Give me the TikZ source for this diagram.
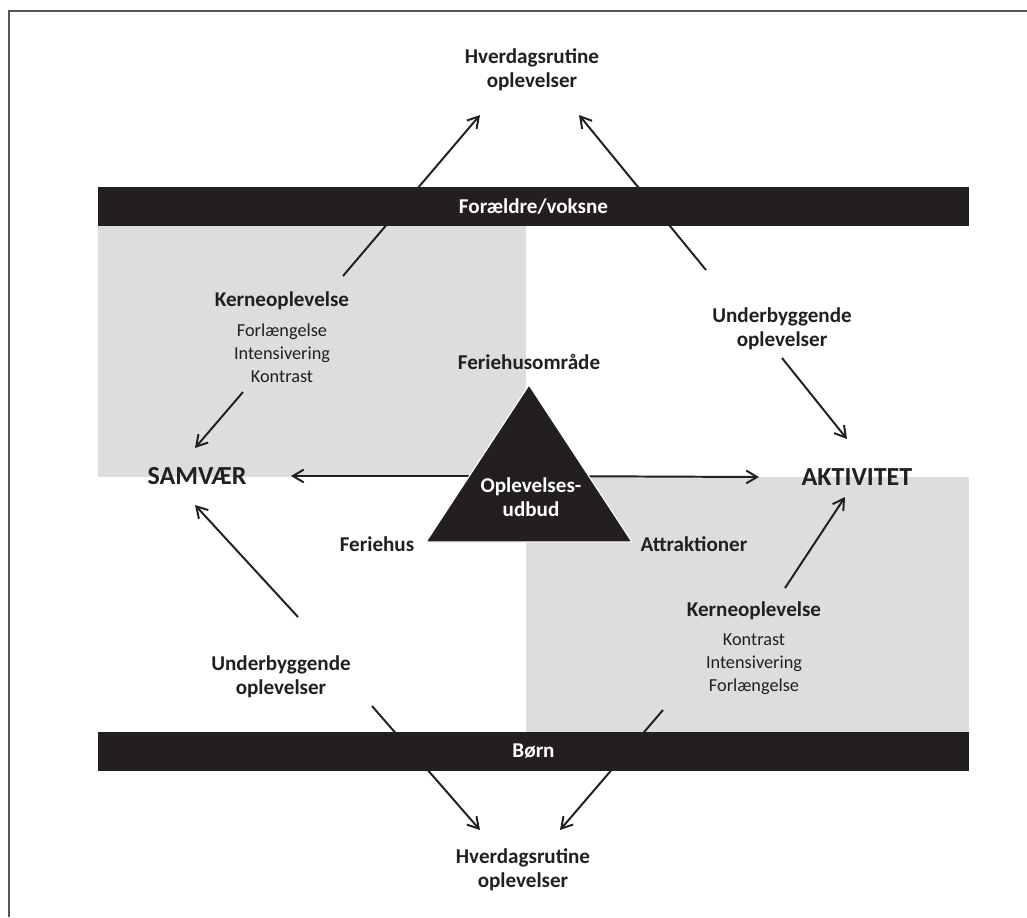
\documentclass[tikz,border=0pt]{standalone}
\usepackage{fontspec}
\setmainfont{Carlito}
\usetikzlibrary{arrows.meta}
\definecolor{bardark}{HTML}{231F20}
\definecolor{greybox}{HTML}{DCDDDE}
\definecolor{framegrey}{HTML}{555555}

\begin{document}
\begin{tikzpicture}[x=0.025cm,y=-0.025cm]

\tikzset{headtext/.style = {font=\fontsize{15}{17}\selectfont\bfseries, text=bardark, align=center, inner sep=0pt}}
\tikzset{subtext/.style = {font=\fontsize{13}{16.4}\selectfont, text=bardark, align=center, inner sep=0pt}}
\tikzset{bigtext/.style = {font=\fontsize{18.5}{20}\selectfont\bfseries, text=bardark, inner sep=0pt}}
\tikzset{barnode/.style = {fill=bardark, text=white, minimum width=21.775cm, minimum height=0.975cm, inner sep=0pt, font=\fontsize{15}{17}\selectfont\bfseries}}
\tikzset{flow/.style = {-{Straight Barb[length=0.27cm,width=0.32cm]}, line width=1.4pt, draw=bardark}}
\useasboundingbox (0,0) rectangle (1027,917);

%frame and grey fields
\draw[framegrey, line width=1.5pt] (8.7,917) -- (8.7,11.2) -- (1027,11.2);
\fill[greybox] (98,226) rectangle (526,477);
\fill[greybox] (526,477) rectangle (969,732);

%arrow ends
\coordinate (a1s) at (343,276);
\coordinate (a1e) at (480,115);
\coordinate (a2s) at (243,392);
\coordinate (a2e) at (195,448);
\coordinate (a3s) at (706,270);
\coordinate (a3e) at (579,115);
\coordinate (a4s) at (782,358);
\coordinate (a4e) at (847,439);
\coordinate (a5s) at (785,588);
\coordinate (a5e) at (845,497);
\coordinate (a6s) at (663,710);
\coordinate (a6e) at (560,830);
\coordinate (a7s) at (298,617);
\coordinate (a7e) at (195,505);
\coordinate (a8s) at (372,706);
\coordinate (a8e) at (480,830);
\coordinate (tri) at (529,476);
\coordinate (left) at (291,476);
\coordinate (right) at (759,477);

%edges
\draw[flow] (a1s) -- (a1e);
\draw[flow] (a2s) -- (a2e);
\draw[flow] (a3s) -- (a3e);
\draw[flow] (a4s) -- (a4e);
\draw[flow] (a5s) -- (a5e);
\draw[flow] (a6s) -- (a6e);
\draw[flow] (a7s) -- (a7e);
\draw[flow] (a8s) -- (a8e);
\draw[flow] (tri) -- (left);
\draw[flow] (tri) -- (right);

%bars
\node[barnode] (voksne) at (533.5,206.5) {Forældre/voksne};
\node[barnode] (born) at (533.5,751.5) {Børn};

%triangle
\coordinate (apex) at (529,385);
\coordinate (bl) at (426,542);
\coordinate (br) at (632,542);
\draw[fill=bardark, draw=white, line width=0.8pt] (apex) -- (br) -- (bl) -- cycle;
\node[headtext, text=white] (udbud) at (531,497) {Oplevelses-\\udbud};

%labels
\node[headtext] (toprut) at (532,70) {Hverdagsrutine\\oplevelser};
\node[headtext] (botrut) at (523,870) {Hverdagsrutine\\oplevelser};
\node[bigtext] (samv) at (197,476) {SAMVÆR};
\node[bigtext] (akt) at (857,477) {AKTIVITET};
\node[headtext] (omr) at (529,362) {Feriehusområde};
\node[headtext] (fhus) at (377,544) {Feriehus};
\node[headtext] (attr) at (694,544) {Attraktioner};
\node[headtext] (kern1) at (282,301) {Kerneoplevelse};
\node[subtext] (list1) at (282,353) {Forlængelse\\Intensivering\\Kontrast};
\node[headtext] (under1) at (782,329) {Underbyggende\\oplevelser};
\node[headtext] (kern2) at (754,611) {Kerneoplevelse};
\node[subtext] (list2) at (754,664) {Kontrast\\Intensivering\\Forlængelse};
\node[headtext] (under2) at (281,677) {Underbyggende\\oplevelser};

\end{tikzpicture}
\end{document}
